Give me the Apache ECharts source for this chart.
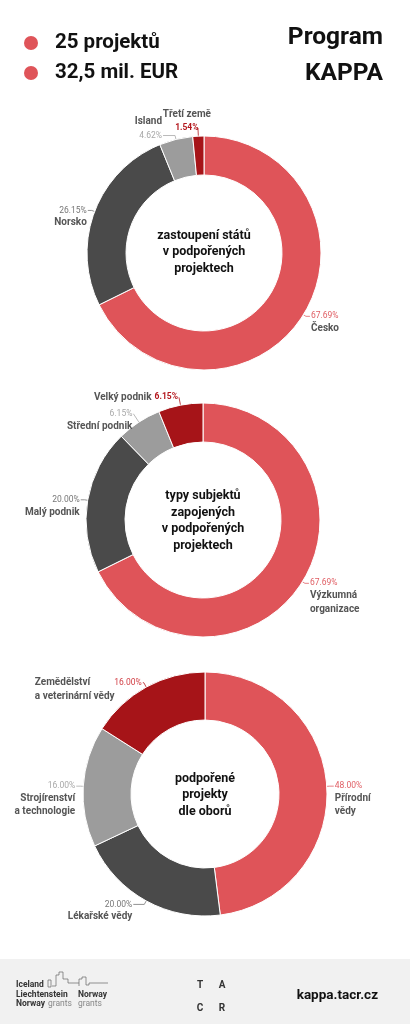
<!DOCTYPE html>
<html>
<head>
<meta charset="utf-8">
<script src="https://cdn.jsdelivr.net/npm/echarts@6/dist/echarts.min.js"></script>
<style>
  html, body { margin: 0; padding: 0; background: #fff; }
  #main { width: 410px; height: 1024px; }
</style>
</head>
<body>
<div id="main"></div>
<script>
// data
var statyNames = ['Česko', 'Norsko', 'Island', 'Třetí země'];
var statyValues = [44, 17, 3, 1];

var typyNames = ['Výzkumná\norganizace', 'Malý podnik', 'Střední podnik', 'Velký podnik'];
var typyValues = [44, 13, 4, 4];

var oboryNames = ['Přírodní\nvědy', 'Lékařské vědy', 'Strojírenství\na technologie', 'Zemědělství\na veterinární vědy'];
var oboryValues = [12, 5, 4, 4];

var headerLines = ['25 projektů', '32,5 mil. EUR'];
var programLines = ['Program', 'KAPPA'];

// styles
var RED = '#df5459', DARK = '#4a4a4a', GRAY = '#9c9c9c', DRED = '#a61418';
var segColors = [RED, DARK, GRAY, DRED];
var pctColors = ['#e06066', '#777777', '#a8a8a8', '#b3161c'];
var FONT = 'Roboto';
var NAME_LH = 13.5, PCT_LH = 11, ABOVE_LH = 14;

// mode per item: 'below' = percent above name, 'above' = name above percent, 'inline'
function buildData(names, values, modes, lines) {
  return names.map(function (n, i) {
    var k = n.split('\n').length;
    var pad = [0, 0, 0, 0];
    // keep the line that carries the percent at the end of the label line
    if (modes[i] === 'below') pad[0] = NAME_LH * k;
    else if (modes[i] === 'above') pad[2] = NAME_LH * k;
    else pad[0] = NAME_LH * (k - 1);
    var item = {
      name: n, value: values[i],
      itemStyle: { color: segColors[i] },
      label: { padding: pad },
      labelLine: { lineStyle: { color: pctColors[i] } }
    };
    if (lines && lines[i]) {
      item.labelLine.length = lines[i][0];
      item.labelLine.length2 = lines[i][1];
    }
    return item;
  });
}

function makeLabel(values, modes, opts) {
  var total = values.reduce(function (a, b) { return a + b; }, 0);
  var rich = {
    n: { fontFamily: FONT, fontSize: 10, fontWeight: 'bold', color: '#555', lineHeight: NAME_LH },
    nl: { fontFamily: FONT, fontSize: 10, fontWeight: 'bold', color: '#555', lineHeight: NAME_LH, align: 'left' },
    g: { width: opts.gap }
  };
  for (var i = 0; i < 4; i++) {
    var bold = i === 3 && opts.lastBold;
    var col = i === 3 && opts.lastColor ? opts.lastColor : pctColors[i];
    rich['p' + i] = { fontFamily: FONT, fontSize: 8.5, fontWeight: bold ? 'bold' : 'normal', color: col, lineHeight: PCT_LH };
    rich['a' + i] = { fontFamily: FONT, fontSize: 8.5, fontWeight: bold ? 'bold' : 'normal', color: col, lineHeight: ABOVE_LH };
    if (i === 3 && opts.lastAlign) rich['a' + i].align = opts.lastAlign;
  }
  return {
    show: true,
    fontFamily: FONT,
    distanceToLabelLine: 1,
    formatter: function (p) {
      var pct = (p.value / total * 100).toFixed(2) + '%';
      var i = p.dataIndex;
      var m = modes[i];
      var key = m === 'inline' ? 'nl' : 'n';
      var lines = p.name.split('\n').map(function (l) { return '{' + key + '|' + l + '}'; });
      if (m === 'above') return lines.join('\n') + '\n{a' + i + '|' + pct + '}';
      if (m === 'inline') {
        lines[0] = lines[0] + '{g|}{p' + i + '|' + pct + '}';
        return lines.join('\n');
      }
      return '{p' + i + '|' + pct + '}\n' + lines.join('\n');
    },
    rich: rich
  };
}

function pieSeries(names, values, center, radius, modes, opts) {
  return {
    type: 'pie',
    center: center,
    radius: radius,
    startAngle: 90,
    clockwise: true,
    avoidLabelOverlap: false,
    silent: true,
    itemStyle: { borderColor: '#fff', borderWidth: 1 },
    label: makeLabel(values, modes, opts),
    labelLine: { show: true, length: 3, length2: 4, lineStyle: { width: 0.8 } },
    labelLayout: opts.layout || { hideOverlap: false },
    data: buildData(names, values, modes, opts.lines)
  };
}

function txt(s, x, y, font, fill, align) {
  return {
    type: 'text',
    style: { text: s, x: x, y: y, textAlign: align || 'left', textVerticalAlign: 'middle', font: font, fill: fill }
  };
}

var chart = echarts.init(document.getElementById('main'), null, { renderer: 'canvas' });

var centerFont = 'bold 12.5px ' + FONT;
var graphics = [
  { type: 'circle', shape: { cx: 31, cy: 43, r: 7 }, style: { fill: RED } },
  { type: 'circle', shape: { cx: 31, cy: 73, r: 7 }, style: { fill: RED } },
  txt(headerLines[0], 55, 43, 'bold 20.5px ' + FONT, '#111'),
  txt(headerLines[1], 55, 73, 'bold 20.5px ' + FONT, '#111'),
  txt(programLines[0], 383, 38, 'bold 24.5px ' + FONT, '#111', 'right'),
  txt(programLines[1], 383, 74, 'bold 24.5px ' + FONT, '#111', 'right'),

  { type: 'text', style: { text: 'zastoupení států\nv podpořených\nprojektech', x: 204, y: 252, textAlign: 'center', textVerticalAlign: 'middle', font: centerFont, fill: '#111', lineHeight: 16.5 } },
  { type: 'text', style: { text: 'typy subjektů\nzapojených\nv podpořených\nprojektech', x: 203, y: 521, textAlign: 'center', textVerticalAlign: 'middle', font: centerFont, fill: '#111', lineHeight: 16.5 } },
  { type: 'text', style: { text: 'podpořené\nprojekty\ndle oborů', x: 205, y: 795, textAlign: 'center', textVerticalAlign: 'middle', font: centerFont, fill: '#111', lineHeight: 16.5 } },

  // footer
  { type: 'rect', shape: { x: 0, y: 959, width: 410, height: 65 }, style: { fill: '#f1f1f1' } },
  txt('Iceland', 16, 985, 'bold 8.5px ' + FONT, '#333'),
  txt('Liechtenstein', 16, 994.5, 'bold 8.5px ' + FONT, '#333'),
  txt('Norway', 16, 1004, 'bold 8.5px ' + FONT, '#333'),
  txt('grants', 48, 1004, '8.5px ' + FONT, '#888'),
  txt('Norway', 78, 994.5, 'bold 8.5px ' + FONT, '#333'),
  txt('grants', 78, 1004, '8.5px ' + FONT, '#888'),
  { type: 'polyline', shape: { points: [[48, 987], [48, 980], [51, 980], [51, 987], [48, 987]] }, style: { stroke: '#666', lineWidth: 0.7, fill: null } },
  { type: 'polyline', shape: { points: [[52, 986], [56, 986], [56, 975], [59, 975], [59, 972], [63, 972], [63, 979], [68, 979], [68, 983], [79, 983]] }, style: { stroke: '#666', lineWidth: 0.7, fill: null } },
  { type: 'polyline', shape: { points: [[79, 986], [79, 979], [82, 979], [82, 977], [86, 977], [86, 985], [89, 985], [89, 983], [108, 983]] }, style: { stroke: '#666', lineWidth: 0.7, fill: null } },
  txt('T', 200, 985, 'bold 10px ' + FONT, '#333', 'center'),
  txt('A', 222, 985, 'bold 10px ' + FONT, '#333', 'center'),
  txt('C', 200, 1008, 'bold 10px ' + FONT, '#333', 'center'),
  txt('R', 222, 1008, 'bold 10px ' + FONT, '#333', 'center'),
  txt('kappa.tacr.cz', 378, 996, 'bold 13.5px ' + FONT, '#111', 'right')
];

var option = {
  animation: false,
  backgroundColor: '#fff',
  graphic: graphics,
  series: [
    pieSeries(statyNames, statyValues, [204, 253], [78, 117], ['below', 'below', 'above', 'above'], {
      gap: 3, lastBold: true, lastAlign: 'center',
      lines: [null, null, [4, 12], [8, 1]],
      // nudge the tiny top slice's label to the right, as in the reference
      layout: function (p) { return p.dataIndex === 3 ? { dx: 15, hideOverlap: false } : { hideOverlap: false }; }
    }),
    pieSeries(typyNames, typyValues, [203, 520], [78, 117], ['below', 'below', 'below', 'inline'], {
      gap: 3, lastBold: true, lines: [null, null, [10, 0], [8, 0]]
    }),
    pieSeries(oboryNames, oboryValues, [205, 794], [74, 122], ['below', 'below', 'below', 'inline'], {
      gap: 24, lastBold: false, lastColor: '#d13c42', lines: [null, [4, 11], null, [5, 1]]
    })
  ]
};

chart.setOption(option);
</script>
</body>
</html>
